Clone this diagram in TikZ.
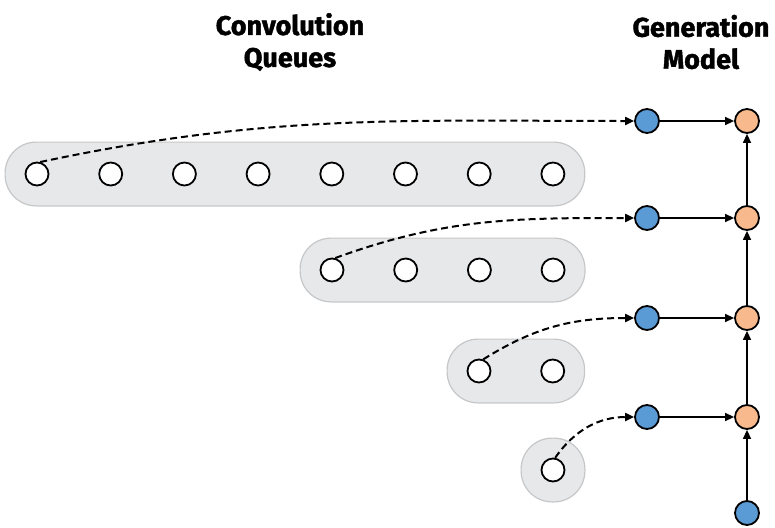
\documentclass[tikz,border=0pt]{standalone}
\usepackage{fontspec}
\setmainfont{Fira Sans}[BoldFeatures={FakeBold=1.6}]
\usetikzlibrary{positioning, arrows.meta, fit, backgrounds}
\definecolor{genblue}{HTML}{5B9BD5}
\definecolor{genorange}{HTML}{F8B98C}
\definecolor{queuefill}{HTML}{E7E8EA}
\definecolor{queueline}{HTML}{C6C7C9}

\begin{document}
\begin{tikzpicture}
    [x=1pt, y=-1pt,
     every node/.style={circle, draw=black, line width=1.8pt, minimum size=23pt, inner sep=0pt},
     slot/.style={fill=white},
     inp/.style={fill=genblue, minimum size=24pt},
     outp/.style={fill=genorange, minimum size=24pt},
     queuebox/.style={draw=queueline, fill=queuefill, rectangle, rounded corners=31pt, inner sep=19.5pt, line width=1.2pt},
     arr/.style={draw=black, line width=1.4pt, -{Triangle[length=9pt, width=8pt]}},
     darr/.style={arr, dash pattern=on 7pt off 4pt, line width=2pt},
     title/.style={draw=none, rectangle, align=center, minimum size=0pt, font=\fontsize{27}{32}\selectfont\bfseries},
     node distance=73.7pt, on grid,
    ]
    \useasboundingbox (0,0) rectangle (775,527);

    \node (convtitle) [title] at (290,42) {Convolution\\Queues};
    \node (gentitle) [title] at (701,42) {Generation\\Model};

    % convolution queues
    \node (q1a) [slot] at (37,174) {};
    \node (q1b) [slot, right=of q1a] {};
    \node (q1c) [slot, right=of q1b] {};
    \node (q1d) [slot, right=of q1c] {};
    \node (q1e) [slot, right=of q1d] {};
    \node (q1f) [slot, right=of q1e] {};
    \node (q1g) [slot, right=of q1f] {};
    \node (q1h) [slot, right=of q1g] {};

    \node (q2a) [slot] at (332,270) {};
    \node (q2b) [slot, right=of q2a] {};
    \node (q2c) [slot, right=of q2b] {};
    \node (q2d) [slot, right=of q2c] {};

    \node (q3a) [slot] at (479,371) {};
    \node (q3b) [slot, right=of q3a] {};

    \node (q4a) [slot] at (553,470) {};

    \begin{scope}[on background layer]
        \node (queue1) [queuebox, fit=(q1a)(q1h)] {};
        \node (queue2) [queuebox, fit=(q2a)(q2d)] {};
        \node (queue3) [queuebox, fit=(q3a)(q3b)] {};
        \node (queue4) [queuebox, fit=(q4a)] {};
    \end{scope}

    % generation model
    \node (in1) [inp] at (647,121) {};
    \node (in2) [inp] at (647,218) {};
    \node (in3) [inp] at (647,318) {};
    \node (in4) [inp] at (647,417) {};
    \node (out1) [outp] at (747,121) {};
    \node (out2) [outp] at (747,218) {};
    \node (out3) [outp] at (747,318) {};
    \node (out4) [outp] at (747,417) {};
    \node (in0) [inp] at (747,513) {};

    \draw [arr] (in1) -- (out1);
    \draw [arr] (in2) -- (out2);
    \draw [arr] (in3) -- (out3);
    \draw [arr] (in4) -- (out4);

    \draw [arr] (in0) -- (out4);
    \draw [arr] (out4) -- (out3);
    \draw [arr] (out3) -- (out2);
    \draw [arr] (out2) -- (out1);

    \draw [darr] (q1a.75) to [out=12, in=180] (in1);
    \draw [darr] (q2a.75) to [out=20, in=180] (in2);
    \draw [darr] (q3a.70) to [out=32, in=180] (in3);
    \draw [darr] (q4a.80) to [out=55, in=180] (in4);

\end{tikzpicture}
\end{document}
